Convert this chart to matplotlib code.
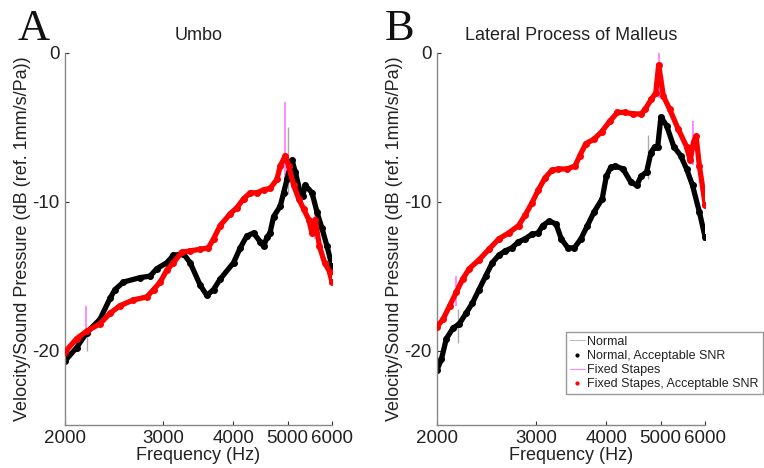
import numpy as np
import matplotlib
matplotlib.use('Agg')
import matplotlib.pyplot as plt
from matplotlib.lines import Line2D

plt.rcParams['font.family'] = ['Liberation Sans', 'DejaVu Sans']

# ---------------------------------------------------------
# DATA
# ---------------------------------------------------------
# Umbo, normal ear
UMBO_NORMAL_F = [2000, 2099, 2187, 2310, 2407, 2458, 2544, 2724, 2839, 2918, 3041, 3125,
                 3257, 3348, 3488, 3586, 3686, 3788, 4002, 4114, 4228, 4346, 4467, 4530,
                 4591, 4650, 4719, 4850, 4918, 4986, 5054, 5089, 5160, 5267, 5320, 5377,
                 5527, 5642, 5760, 5880, 6000]
UMBO_NORMAL_DB = [-20.7, -19.8, -18.8, -17.9, -16.5, -15.9, -15.4, -15.1, -15.0, -14.5, -14.1, -13.6,
                  -13.5, -14.1, -15.6, -16.3, -15.9, -15.2, -14.1, -13.1, -12.3, -12.1, -12.7, -13.0,
                  -12.4, -12.1, -11.0, -10.3, -9.4, -8.5, -7.6, -7.2, -8.0, -9.4, -9.6, -8.9,
                  -9.4, -10.7, -11.8, -13.0, -14.3]

# Umbo, fixed stapes
UMBO_FIXED_F = [2000, 2099, 2187, 2310, 2407, 2505, 2650, 2800, 2880, 2960, 3041, 3125,
                3232, 3348, 3488, 3608, 3686, 3788, 3950, 4058, 4171, 4287, 4406, 4530,
                4655, 4784, 4850, 4952, 5020, 5125, 5232, 5342, 5453, 5527, 5600, 5700,
                5820, 5940, 6000]
UMBO_FIXED_DB = [-20.1, -19.2, -18.7, -18.2, -17.5, -17.0, -16.6, -16.4, -15.9, -15.4, -14.6, -14.1,
                 -13.4, -13.3, -13.2, -13.1, -12.5, -11.6, -10.8, -10.4, -9.8, -9.4, -9.4, -9.2,
                 -9.1, -8.5, -7.6, -6.9, -7.6, -8.9, -9.8, -10.5, -11.2, -12.1, -11.2, -13.0,
                 -14.1, -14.7, -15.4]

# Lateral process of malleus, normal ear
LPM_NORMAL_F = [2000, 2036, 2078, 2135, 2192, 2252, 2313, 2376, 2441, 2508, 2576, 2646,
                2718, 2792, 2868, 2946, 3026, 3084, 3169, 3257, 3328, 3418, 3510, 3606,
                3704, 3805, 3935, 4002, 4074, 4148, 4286, 4427, 4536, 4610, 4720, 4805,
                4880, 4940, 5005, 5125, 5275, 5427, 5560, 5697, 5860, 6000]
LPM_NORMAL_DB = [-21.3, -20.6, -19.2, -18.5, -18.2, -17.5, -16.8, -15.9, -15.0, -14.1, -13.6, -13.3,
                 -13.1, -12.7, -12.5, -12.2, -12.1, -11.6, -11.3, -11.5, -12.5, -13.1, -13.1, -12.5,
                 -11.6, -10.7, -9.8, -8.3, -7.7, -7.6, -7.8, -8.7, -8.9, -8.3, -8.0, -6.7,
                 -6.3, -6.3, -4.3, -4.9, -6.3, -6.9, -7.8, -8.9, -10.7, -12.4]

# Lateral process of malleus, fixed stapes
LPM_FIXED_F = [2000, 2050, 2106, 2163, 2222, 2283, 2376, 2474, 2576, 2683, 2794, 2870,
               2949, 3030, 3113, 3199, 3287, 3410, 3520, 3591, 3679, 3804, 3927, 4057,
               4189, 4326, 4466, 4615, 4690, 4815, 4900, 4960, 5055, 5190, 5370, 5560,
               5640, 5720, 5780, 5860, 6000]
LPM_FIXED_DB = [-18.4, -17.9, -17.0, -16.1, -15.2, -14.5, -13.9, -13.2, -12.5, -12.1, -11.6, -10.9,
                -10.1, -9.2, -8.4, -7.9, -7.8, -7.8, -7.6, -6.9, -6.1, -5.8, -5.3, -4.6,
                -4.0, -4.0, -4.1, -4.1, -3.8, -3.1, -2.7, -0.8, -2.9, -3.8, -5.1, -6.3,
                -7.2, -6.0, -5.6, -7.6, -10.2]

# noisy spikes (error extent) visible at a few frequencies
UMBO_NORMAL_SPIKE_F = [2187, 5000]
UMBO_NORMAL_SPIKE_LO = [-20.0, -9.5]
UMBO_NORMAL_SPIKE_HI = [-18.5, -5.0]
UMBO_FIXED_SPIKE_F = [2180, 4952, 5600]
UMBO_FIXED_SPIKE_LO = [-19.0, -8.5, -12.5]
UMBO_FIXED_SPIKE_HI = [-17.0, -3.3, -10.3]
LPM_NORMAL_SPIKE_F = [2180, 4740]
LPM_NORMAL_SPIKE_LO = [-19.5, -8.5]
LPM_NORMAL_SPIKE_HI = [-17.2, -5.5]
LPM_FIXED_SPIKE_F = [2163, 4960, 5700]
LPM_FIXED_SPIKE_LO = [-17.0, -3.0, -7.5]
LPM_FIXED_SPIKE_HI = [-15.0, 0.0, -4.6]

X_TICKS = [2000, 3000, 4000, 5000, 6000]
Y_TICKS = [-20, -10, 0]

YLABEL = 'Velocity/Sound Pressure (dB (ref. 1mm/s/Pa))'


def draw_panel(ax, normal, fixed, n_spike, f_spike, title):
    nf, ndb = normal
    ff, fdb = fixed
    # thin lines / error spikes ("Normal", "Fixed Stapes")
    ax.plot(nf, ndb, color='#bbbbbb', lw=0.8, zorder=1)
    ax.plot(ff, fdb, color='#ff88ff', lw=0.8, zorder=1)
    ax.vlines(n_spike[0], n_spike[1], n_spike[2], color='#aaaaaa', lw=1.0, zorder=1)
    ax.vlines(f_spike[0], f_spike[1], f_spike[2], color='#ff77ff', lw=1.2, zorder=1)
    # acceptable SNR points, dense band
    ax.plot(nf, ndb, color='black', lw=3.8, marker='o', ms=4, zorder=2)
    ax.plot(ff, fdb, color='red', lw=3.8, marker='o', ms=4, zorder=3)

    ax.set_xscale('log')
    ax.set_xlim(2000, 6000)
    ax.set_ylim(-25, 0)
    ax.set_xticks(X_TICKS)
    ax.set_xticklabels([str(t) for t in X_TICKS])
    ax.xaxis.set_minor_locator(matplotlib.ticker.NullLocator())
    ax.set_yticks(Y_TICKS)
    ax.set_yticklabels([str(t) for t in Y_TICKS])
    ax.tick_params(direction='in', length=3, labelsize=13.5, colors='#333333',
                   labelcolor='#222222', pad=4)
    for s in ['top', 'right']:
        ax.spines[s].set_visible(False)
    for s in ['left', 'bottom']:
        ax.spines[s].set_color('#888888')
        ax.spines[s].set_linewidth(1.0)
    ax.set_title(title, fontsize=13, color='#222222', pad=9)
    ax.set_xlabel('Frequency (Hz)', fontsize=13, color='#222222', labelpad=0)
    ax.set_ylabel(YLABEL, fontsize=13, color='#222222', labelpad=1)


def main():
    fig = plt.figure(figsize=(7.64, 4.68), dpi=100)
    ax_a = fig.add_axes([0.085, 0.092, 0.3495, 0.795])
    ax_b = fig.add_axes([0.572, 0.092, 0.351, 0.795])

    draw_panel(ax_a, (UMBO_NORMAL_F, UMBO_NORMAL_DB), (UMBO_FIXED_F, UMBO_FIXED_DB),
               (UMBO_NORMAL_SPIKE_F, UMBO_NORMAL_SPIKE_LO, UMBO_NORMAL_SPIKE_HI),
               (UMBO_FIXED_SPIKE_F, UMBO_FIXED_SPIKE_LO, UMBO_FIXED_SPIKE_HI), 'Umbo')
    draw_panel(ax_b, (LPM_NORMAL_F, LPM_NORMAL_DB), (LPM_FIXED_F, LPM_FIXED_DB),
               (LPM_NORMAL_SPIKE_F, LPM_NORMAL_SPIKE_LO, LPM_NORMAL_SPIKE_HI),
               (LPM_FIXED_SPIKE_F, LPM_FIXED_SPIKE_LO, LPM_FIXED_SPIKE_HI),
               'Lateral Process of Malleus')

    fig.text(18 / 764, 1 - 40 / 468, 'A', family='Liberation Serif', fontsize=32, color='#111111')
    fig.text(385 / 764, 1 - 40 / 468, 'B', family='Liberation Serif', fontsize=32, color='#111111')

    handles = [
        Line2D([], [], color='#bbbbbb', lw=0.8),
        Line2D([], [], color='black', ls='none', marker='.', ms=4),
        Line2D([], [], color='#ff88ff', lw=0.8),
        Line2D([], [], color='red', ls='none', marker='.', ms=4),
    ]
    labels = ['Normal', 'Normal, Acceptable SNR', 'Fixed Stapes', 'Fixed Stapes, Acceptable SNR']
    leg = fig.legend(handles, labels, loc='upper left',
                     bbox_to_anchor=(566 / 764, 1 - 332 / 468),
                     fontsize=9.0, handlelength=1.2, handletextpad=0.2,
                     labelspacing=0.18, borderpad=0.3, borderaxespad=0,
                     fancybox=False, framealpha=1, edgecolor='#999999')
    for t in leg.get_texts():
        t.set_color('#222222')

    fig.savefig('out.png', dpi=100)


if __name__ == "__main__":
    main()
